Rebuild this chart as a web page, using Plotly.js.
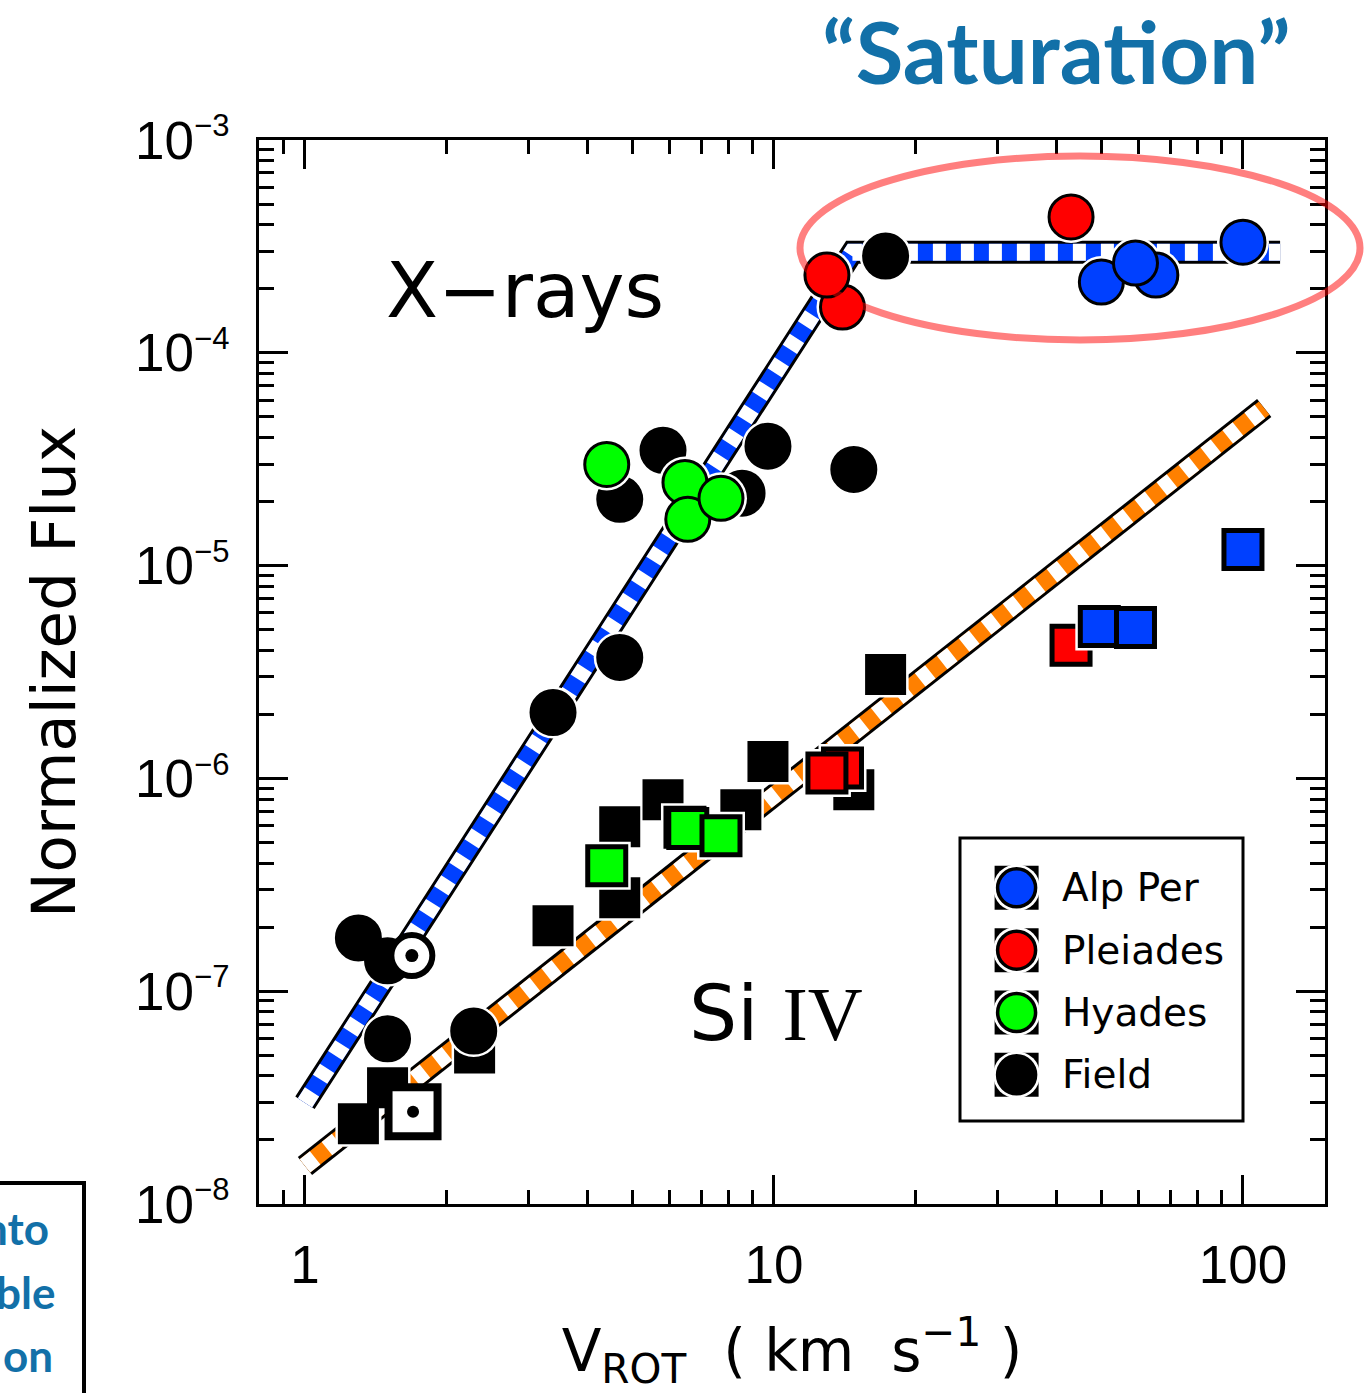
<!DOCTYPE html>
<html><head><meta charset="utf-8">
<script src="https://cdn.plot.ly/plotly-3.0.1.min.js"></script>
<style>html,body{margin:0;padding:0;background:#fff;}#chart{width:1371px;height:1393px;}</style>
</head><body><div id="chart"></div>
<script>
// ---------------- data ----------------
const groups = ['Alp Per', 'Pleiades', 'Hyades', 'Field'];
const groupColors = ['#0040FF', '#FF0000', '#00FF00', '#000000'];

// X-ray fluxes (circles)
const xrayFieldV = [1.30, 1.50, 1.50, 2.29, 3.38, 4.69, 4.69, 5.80, 8.55, 9.71, 14.8, 17.3];
const xrayFieldF = [1.78e-7, 1.39e-7, 5.97e-8, 6.5e-8, 2.04e-6, 3.7e-6, 2.05e-5, 3.48e-5, 2.19e-5, 3.64e-5, 2.83e-5, 2.85e-4];
const xrayHyadesV = [4.40, 6.46, 6.55, 7.71];
const xrayHyadesF = [2.99e-5, 2.46e-5, 1.65e-5, 2.07e-5];
const xrayPleiadesV = [14.0, 12.97, 43.0];
const xrayPleiadesF = [1.64e-4, 2.32e-4, 4.35e-4];
const xrayAlpPerV = [49.9, 65.2, 59.0, 100];
const xrayAlpPerF = [2.15e-4, 2.32e-4, 2.64e-4, 3.31e-4];

// Si IV fluxes (squares)
const siivFieldV = [1.30, 1.50, 2.30, 3.38, 4.69, 4.69, 5.80, 8.50, 9.71, 14.8, 17.3];
const siivFieldF = [2.38e-8, 3.52e-8, 5.13e-8, 2.03e-7, 2.75e-7, 5.93e-7, 7.94e-7, 7.13e-7, 1.20e-6, 8.85e-7, 3.08e-6];
const siivHyadesV = [4.40, 6.46, 6.55, 7.71];
const siivHyadesF = [3.89e-7, 5.9e-7, 5.81e-7, 5.38e-7];
const siivPleiadesV = [14.0, 12.97, 43.0];
const siivPleiadesF = [1.12e-6, 1.06e-6, 4.22e-6];
const siivAlpPerV = [49.4, 59.0, 100];
const siivAlpPerF = [5.18e-6, 5.12e-6, 1.19e-5];

// Sun
const sunXrayV = [1.69];
const sunXrayF = [1.47e-7];
const sunSiivV = [1.70];
const sunSiivF = [2.71e-8];

// Fits
const xrayFitV = [1.0, 14.7, 120];
const xrayFitF = [2.99e-8, 2.97e-4, 2.97e-4];
const siivFitV = [1.0, 111];
const siivFitF = [1.51e-8, 5.5e-5];

// Axis ticks
const xTickVals = [1, 10, 100];
const xTickText = ['1', '10', '100'];
const yTickVals = [1e-8, 1e-7, 1e-6, 1e-5, 1e-4, 1e-3];
const yTickExp = ['−8', '−7', '−6', '−5', '−4', '−3'];
const xMinor = [0.8, 0.9, 2, 3, 4, 5, 6, 7, 8, 9, 20, 30, 40, 50, 60, 70, 80, 90, 200];
const yMinor = [];
for (let e = -8; e < -3; e++) for (let m = 2; m <= 9; m++) yMinor.push(m * Math.pow(10, e));
const yTickText = yTickExp.map(s => '10<sup><span style="font-size:31px">' + s + '</span></sup>');

// ---------------- layout helpers ----------------
const L = 259, R = 1325, T = 140, B = 1204;
const PX = p => (p - L) / (R - L);
const PY = p => (B - p) / (B - T);
const FONT = 'DejaVu Sans, sans-serif';
const BLUE_TXT = '#1270A8';

const traces = [];
function fitLine(x, y, color) {
  traces.push({x, y, mode: 'lines', line: {color: '#000', width: 23}, hoverinfo: 'skip'});
  traces.push({x, y, mode: 'lines', line: {color: color, width: 17}, hoverinfo: 'skip'});
  traces.push({x, y, mode: 'lines', line: {color: '#fff', width: 17, dash: '13px,15px'}, hoverinfo: 'skip'});
}
function markers(x, y, symbol, color, size, lw, halo, xa, ya) {
  traces.push({x, y, xaxis: xa || 'x', yaxis: ya || 'y', mode: 'markers', cliponaxis: false,
    marker: {symbol, size: halo, color: '#fff', line: {width: 0}}, hoverinfo: 'skip'});
  traces.push({x, y, xaxis: xa || 'x', yaxis: ya || 'y', mode: 'markers', cliponaxis: false,
    marker: {symbol, size, color, line: {color: '#000', width: lw}}});
}

fitLine(xrayFitV, xrayFitF, '#0040FF');
fitLine(siivFitV, siivFitF, '#FF8000');

// squares
markers(siivFieldV, siivFieldF, 'square', '#000', 41, 0, 46);
markers(siivHyadesV, siivHyadesF, 'square', groupColors[2], 38, 5, 48);
markers(siivPleiadesV, siivPleiadesF, 'square', groupColors[1], 38, 5, 48);
markers(siivAlpPerV, siivAlpPerF, 'square', groupColors[0], 38, 5, 48);
// sun square
traces.push({x: sunSiivV, y: sunSiivF, mode: 'markers', cliponaxis: false,
  marker: {symbol: 'square', size: 49, color: '#fff', line: {color: '#000', width: 8}}});
traces.push({x: sunSiivV, y: sunSiivF, mode: 'markers', cliponaxis: false,
  marker: {symbol: 'circle', size: 12, color: '#000'}});

// circles
markers(xrayFieldV, xrayFieldF, 'circle', '#000', 44, 3, 52);
traces.push({x: sunXrayV, y: sunXrayF, mode: 'markers', cliponaxis: false,
  marker: {symbol: 'circle', size: 41, color: '#fff', line: {color: '#000', width: 6}}});
traces.push({x: sunXrayV, y: sunXrayF, mode: 'markers', cliponaxis: false,
  marker: {symbol: 'circle', size: 13, color: '#000'}});
markers(xrayHyadesV, xrayHyadesF, 'circle', groupColors[2], 44, 3, 52);
markers(xrayPleiadesV, xrayPleiadesF, 'circle', groupColors[1], 44, 3, 52);
markers(xrayAlpPerV, xrayAlpPerF, 'circle', groupColors[0], 44, 3, 52);

// legend keys (on a hidden helper axis pair)
const legRows = groups.map((g, i) => i);
const legSymX = groups.map(() => 0.2);
traces.push({x: legSymX, y: legRows, xaxis: 'x2', yaxis: 'y2', mode: 'markers', cliponaxis: false,
  marker: {symbol: 'square', size: 44, color: '#000'}, hoverinfo: 'skip'});
markers(legSymX, legRows, 'circle', groupColors, 38, 3.5, 47, 'x2', 'y2');

traces.forEach(t => t.showlegend = false);

const annotations = [
  {text: 'X−rays', x: PX(525), y: PY(291), font: {family: FONT, size: 76, color: '#000'}},
  {text: 'Si <span style="font-family:Liberation Serif">IV</span>', x: PX(776), y: PY(1013), font: {family: FONT, size: 76, color: '#000'}},
  {text: '“Saturation”', x: PX(1056), y: PY(50), font: {family: 'Lato, sans-serif', size: 87, color: BLUE_TXT, weight: 'bold'}},
  {text: 'nto', x: PX(51), y: PY(1228), xanchor: 'right', font: {family: 'Lato, sans-serif', size: 44, color: BLUE_TXT, weight: 'bold'}},
  {text: 'ble', x: PX(57), y: PY(1292), xanchor: 'right', font: {family: 'Lato, sans-serif', size: 44, color: BLUE_TXT, weight: 'bold'}},
  {text: 'on', x: PX(55), y: PY(1355), xanchor: 'right', font: {family: 'Lato, sans-serif', size: 44, color: BLUE_TXT, weight: 'bold'}}
].map(a => Object.assign({xref: 'paper', yref: 'paper', showarrow: false, xanchor: 'center', yanchor: 'middle'}, a));

groups.forEach((g, i) => annotations.push({text: g, xref: 'x2', yref: 'y2', x: 0.355, y: legRows[i],
  xanchor: 'left', yanchor: 'middle', showarrow: false, font: {family: FONT, size: 39, color: '#000'}}));

const axisCommon = {
  type: 'log', showgrid: false, zeroline: false, showline: true, linecolor: '#000', linewidth: 3,
  mirror: 'allticks', ticks: 'inside', tickcolor: '#000', tickwidth: 3, tickmode: 'array'
};

const layout = {
  width: 1371, height: 1393,
  margin: {l: L, r: 1371 - R, t: T, b: 1393 - B, pad: 0},
  paper_bgcolor: '#fff', plot_bgcolor: 'rgba(0,0,0,0)',
  xaxis: Object.assign({}, axisCommon, {
    range: [Math.log10(0.798), Math.log10(149.6)], tickvals: xTickVals, ticktext: xTickText, ticklen: 29,
    tickfont: {family: 'Liberation Sans, sans-serif', size: 53, color: '#000'}, ticklabelstandoff: 12,
    minor: {tickmode: 'array', tickvals: xMinor, ticks: 'inside', ticklen: 14, tickwidth: 3, tickcolor: '#000', showgrid: false},
    title: {text: 'V<sub>ROT</sub>\u00A0\u00A0( km\u00A0\u00A0s<sup>−1</sup>\u00A0)', font: {family: FONT, size: 58, color: '#000'}, standoff: 50}
  }),
  yaxis: Object.assign({}, axisCommon, {
    range: [-8, -3], tickvals: yTickVals, ticktext: yTickText, ticklen: 29,
    tickfont: {family: 'Liberation Sans, sans-serif', size: 53, color: '#000'}, ticklabelstandoff: 16,
    minor: {tickmode: 'array', tickvals: yMinor, ticks: 'inside', ticklen: 15, tickwidth: 3, tickcolor: '#000', showgrid: false},
    title: {text: 'Normalized Flux', font: {family: FONT, size: 61, color: '#000'}, standoff: 40}
  }),
  xaxis2: {domain: [PX(960), PX(1243)], range: [0, 1], visible: false, anchor: 'y2', fixedrange: true},
  yaxis2: {domain: [PY(1121), PY(838)], range: [3.74, -0.80], visible: false, anchor: 'x2', fixedrange: true},
  shapes: [
    {type: 'rect', xref: 'paper', yref: 'paper', x0: PX(960), x1: PX(1243), y0: PY(1121), y1: PY(838), line: {color: '#000', width: 3}},
    {type: 'circle', xref: 'paper', yref: 'paper', x0: PX(800), x1: PX(1360), y0: PY(340), y1: PY(156), layer: 'above', line: {color: 'rgba(255,0,0,0.5)', width: 7}},
    {type: 'rect', xref: 'paper', yref: 'paper', x0: PX(-60), x1: PX(84), y0: PY(1460), y1: PY(1183), line: {color: '#000', width: 4}}
  ],
  annotations,
  showlegend: false
};

Plotly.newPlot('chart', traces, layout, {displayModeBar: false, staticPlot: true});
</script>
</body></html>
